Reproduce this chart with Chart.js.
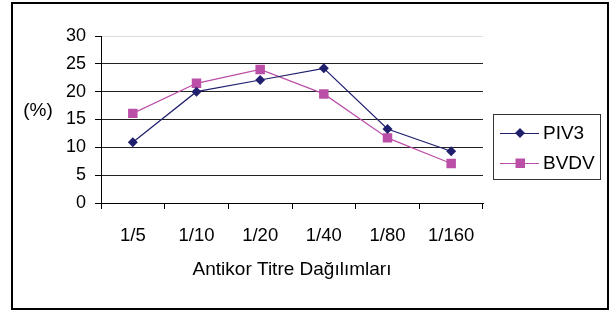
<!DOCTYPE html>
<html>
<head>
<meta charset="utf-8">
<script src="https://cdn.jsdelivr.net/npm/chart.js@4"></script>
<style>
  html, body { margin: 0; padding: 0; background: #fff; }
  canvas { display: block; }
</style>
</head>
<body>
<canvas id="titreChart" width="615" height="311"></canvas>
<script>
const titres = ["1/5", "1/10", "1/20", "1/40", "1/80", "1/160"];
const piv3 = [10.9, 20.0, 22.1, 24.2, 13.3, 9.3];
const bvdv = [16.1, 21.5, 24.0, 19.6, 11.7, 7.1];
const yTicks = [0, 5, 10, 15, 20, 25, 30];

const FONT = "'Liberation Sans', Arial, sans-serif";
const NAVY = "#1f1f6e";
const PINK = "#bb4fa8";

/* =========================
   FRAME, (%) LABEL AND LEGEND
========================= */
const extras = {
  id: "extras",
  afterDraw(chart) {
    const ctx = chart.ctx;
    ctx.save();

    // outer frame
    ctx.strokeStyle = "#000";
    ctx.lineWidth = 2;
    ctx.strokeRect(12, 3, 596, 306);

    // y label, horizontal like Excel
    ctx.fillStyle = "#000";
    ctx.font = "19px " + FONT;
    ctx.textAlign = "center";
    ctx.textBaseline = "middle";
    ctx.fillText("(%)", 38, 111);

    // legend box
    ctx.lineWidth = 1;
    ctx.strokeStyle = "#333";
    ctx.strokeRect(493.5, 114.5, 107, 65);

    chart.data.datasets.forEach((ds, i) => {
      const y = 133 + i * 30;
      ctx.strokeStyle = ds.borderColor;
      ctx.lineWidth = 1;
      ctx.beginPath();
      ctx.moveTo(500, y + 0.5);
      ctx.lineTo(539, y + 0.5);
      ctx.stroke();

      ctx.fillStyle = ds.pointBackgroundColor;
      ctx.beginPath();
      if (ds.pointStyle === "rectRot") {
        ctx.moveTo(520, y - 5);
        ctx.lineTo(525, y);
        ctx.lineTo(520, y + 5);
        ctx.lineTo(515, y);
        ctx.closePath();
      } else {
        ctx.rect(515.5, y - 4.5, 9.5, 9.5);
      }
      ctx.fill();

      ctx.fillStyle = "#000";
      ctx.textAlign = "left";
      ctx.fillText(ds.label, 543, y + 1);
    });

    ctx.restore();
  },
};

new Chart(document.getElementById("titreChart").getContext("2d"), {
  type: "line",
  data: {
    labels: titres,
    datasets: [
      {
        label: "PIV3",
        data: piv3,
        borderColor: NAVY,
        backgroundColor: NAVY,
        pointBackgroundColor: NAVY,
        pointBorderColor: NAVY,
        pointStyle: "rectRot",
        pointRadius: 5,
        pointBorderWidth: 0,
        borderWidth: 1.2,
        tension: 0,
        fill: false,
      },
      {
        label: "BVDV",
        data: bvdv,
        borderColor: PINK,
        backgroundColor: PINK,
        pointBackgroundColor: PINK,
        pointBorderColor: PINK,
        pointStyle: "rect",
        pointRadius: 6.7,
        pointBorderWidth: 0,
        borderWidth: 1.2,
        tension: 0,
        fill: false,
      },
    ],
  },
  options: {
    responsive: false,
    animation: false,
    devicePixelRatio: 1,
    layout: { padding: { left: 0, top: 36, right: 132, bottom: 0 } },
    plugins: {
      legend: { display: false },
      tooltip: { enabled: false },
    },
    scales: {
      x: {
        offset: true,
        grid: {
          offset: true,
          drawOnChartArea: false,
          drawTicks: true,
          tickLength: 6,
          color: "#000",
        },
        border: { color: "#000", width: 1 },
        ticks: {
          color: "#000",
          font: { family: FONT, size: 18.5 },
          padding: 16,
          maxRotation: 0,
        },
        title: {
          display: true,
          text: "Antikor Titre Dağılımları",
          color: "#000",
          font: { family: FONT, size: 19 },
          padding: { top: 4, bottom: 30 },
        },
        afterFit(scale) {
          scale.height = 108;
        },
      },
      y: {
        min: 0,
        max: 30,
        afterBuildTicks(scale) {
          scale.ticks = yTicks.map((v) => ({ value: v }));
        },
        grid: {
          color: (c) => (c.tick && c.tick.value === 30 ? "#dcdcdc" : "#222"),
          tickColor: "#000",
          drawTicks: true,
          tickLength: 6,
        },
        border: { color: "#000", width: 1 },
        ticks: {
          color: "#000",
          font: { family: FONT, size: 18 },
          padding: 9,
        },
        afterFit(scale) {
          scale.width = 101;
        },
      },
    },
  },
  plugins: [extras],
});
</script>
</body>
</html>
